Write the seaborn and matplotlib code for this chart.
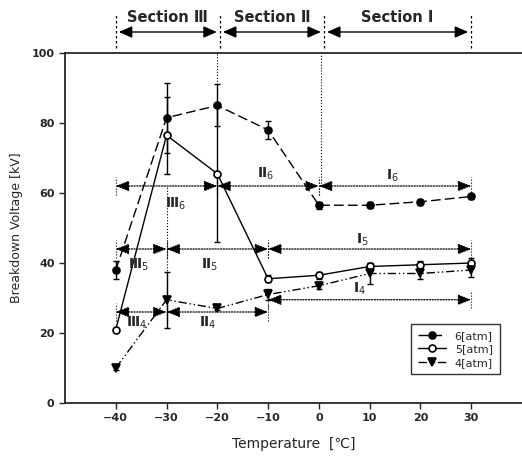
import numpy as np
import pandas as pd
import matplotlib
matplotlib.use("Agg")
import matplotlib.pyplot as plt
import seaborn as sns

# -----------------------------
# Data
# -----------------------------
temps = [-40, -30, -20, -10, 0, 10, 20, 30]

v6 = [38, 81.5, 85, 78, 56.5, 56.5, 57.5, 59]
e6 = [2.5, 10, 6, 2.5, 1, 0.8, 0.8, 0.8]

v5 = [21, 76.5, 65.5, 35.5, 36.5, 39, 39.5, 40]
e5 = [0.5, 11, 19.5, 1, 1, 1, 1, 1.5]

v4 = [10, 29.5, 27, 31, 33.5, 37, 37, 38]
e4 = [0.5, 8, 0.5, 1.5, 1, 3, 1.5, 2]

series_labels = ["6[atm]", "5[atm]", "4[atm]"]

# region arrows: (x_start, x_end, level, numeral, subscript, label_x, label_y)
region_arrows = [
    (-40, -20, 62, "Ⅲ", "6", -28.3, 57),
    (-20, 0, 62, "Ⅱ", "6", -10.5, 65.5),
    (0, 30, 62, "Ⅰ", "6", 14.5, 65),
    (-40, -30, 44, "Ⅲ", "5", -35.5, 39.5),
    (-30, -10, 44, "Ⅱ", "5", -21.5, 39.5),
    (-10, 30, 44, "Ⅰ", "5", 8.5, 46.5),
    (-40, -30, 26, "Ⅲ", "4", -36, 23),
    (-30, -10, 26, "Ⅱ", "4", -22, 23),
    (-10, 30, 29.5, "Ⅰ", "4", 8, 32.5),
]

# section bounds on top
section_edges = [-40, -19.5, 1, 30]
section_names = ["Section Ⅲ", "Section Ⅱ", "Section Ⅰ"]

# -----------------------------
# Build long dataframe for seaborn
# -----------------------------
df = pd.DataFrame({
    "Temperature": temps * 3,
    "Voltage": v6 + v5 + v4,
    "err": e6 + e5 + e4,
    "Pressure": np.repeat(series_labels, len(temps)),
})

sns.set_style("ticks")
plt.rcParams["font.family"] = ["Liberation Sans Narrow", "DejaVu Sans", "Noto Sans CJK SC"]

fig = plt.figure(figsize=(5.22, 4.62), dpi=100)
ax = fig.add_axes([0.1245, 0.1277, 0.8755, 0.7576])

styles = {
    "6[atm]": dict(marker="o", mfc="black", ls=(0, (7, 3)), ms=5),
    "5[atm]": dict(marker="o", mfc="white", ls="-", ms=5),
    "4[atm]": dict(marker="v", mfc="black", ls=(0, (6, 2, 1, 2, 1, 2)), ms=6),
}

for lab in series_labels:
    sub = df[df["Pressure"] == lab]
    st = styles[lab]
    sns.lineplot(data=sub, x="Temperature", y="Voltage", ax=ax, color="black",
                 lw=1.0, linestyle=st["ls"], marker=st["marker"], markersize=st["ms"],
                 markerfacecolor=st["mfc"], markeredgecolor="black", markeredgewidth=1.2,
                 label=lab, zorder=3)
    ax.errorbar(sub["Temperature"], sub["Voltage"], yerr=sub["err"], fmt="none",
                ecolor="black", elinewidth=1.0, capsize=2.5, capthick=1.0, zorder=2)

# dotted region arrows
for x1, x2, lvl, rom, sub_, lx, ly in region_arrows:
    ax.annotate("", xy=(x2, lvl), xytext=(x1, lvl),
                arrowprops=dict(arrowstyle="<|-|>,head_length=0.8,head_width=0.32",
                                color="black", lw=0.9, linestyle=(0, (1, 1.2)),
                                shrinkA=0, shrinkB=0))
    for xe in (x1, x2):
        ax.plot([xe, xe], [lvl - 2.5, lvl + 2.5], color="black", lw=0.8, ls=":")
    ax.text(lx, ly, rom + "$_{" + sub_ + "}$", fontsize=10, fontweight="bold",
            ha="center", va="center")

# dotted guide lines
ax.plot([-30, -30], [26, 62], color="black", lw=0.8, ls=":", zorder=1)
ax.plot([-20, -20], [85, 100], color="black", lw=0.8, ls=":", zorder=1)
ax.plot([0.5, 0.5], [62, 100], color="black", lw=0.8, ls=":", zorder=1)

# sections on top
for xe in section_edges:
    ax.plot([xe, xe], [101.5, 111.5], color="black", lw=0.9, ls=(0, (2, 2)), clip_on=False)
for i, name in enumerate(section_names):
    a, b = section_edges[i], section_edges[i + 1]
    ax.annotate("", xy=(b - 0.6, 106), xytext=(a + 0.6, 106), annotation_clip=False,
                arrowprops=dict(arrowstyle="<|-|>,head_length=0.8,head_width=0.35",
                                color="black", lw=1.0, shrinkA=0, shrinkB=0))
    ax.text((a + b) / 2, 110, name, ha="center", va="center", fontsize=10.5,
            fontweight="bold")

ax.set_xlim(-50, 40)
ax.set_ylim(0, 100)
ax.set_xticks(temps)
ax.set_yticks([0, 20, 40, 60, 80, 100])
ax.tick_params(axis="both", direction="out", length=4, width=1, labelsize=8)
for t in ax.get_xticklabels() + ax.get_yticklabels():
    t.set_fontweight("bold")
for s in ["left", "bottom", "top"]:
    ax.spines[s].set_linewidth(1.3)
ax.spines["right"].set_visible(False)

ax.set_xlabel("Temperature  [℃]", fontsize=10, labelpad=10)
ax.set_ylabel("Breakdown Voltage [kV]", fontsize=9, labelpad=6)

leg = ax.legend(loc="lower right", bbox_to_anchor=(0.963, 0.066), fontsize=8,
                frameon=True, fancybox=False, edgecolor="black", handlelength=2.5,
                borderpad=0.6, labelspacing=0.3)
leg.get_frame().set_linewidth(1.0)

fig.savefig("out.png", dpi=100)
